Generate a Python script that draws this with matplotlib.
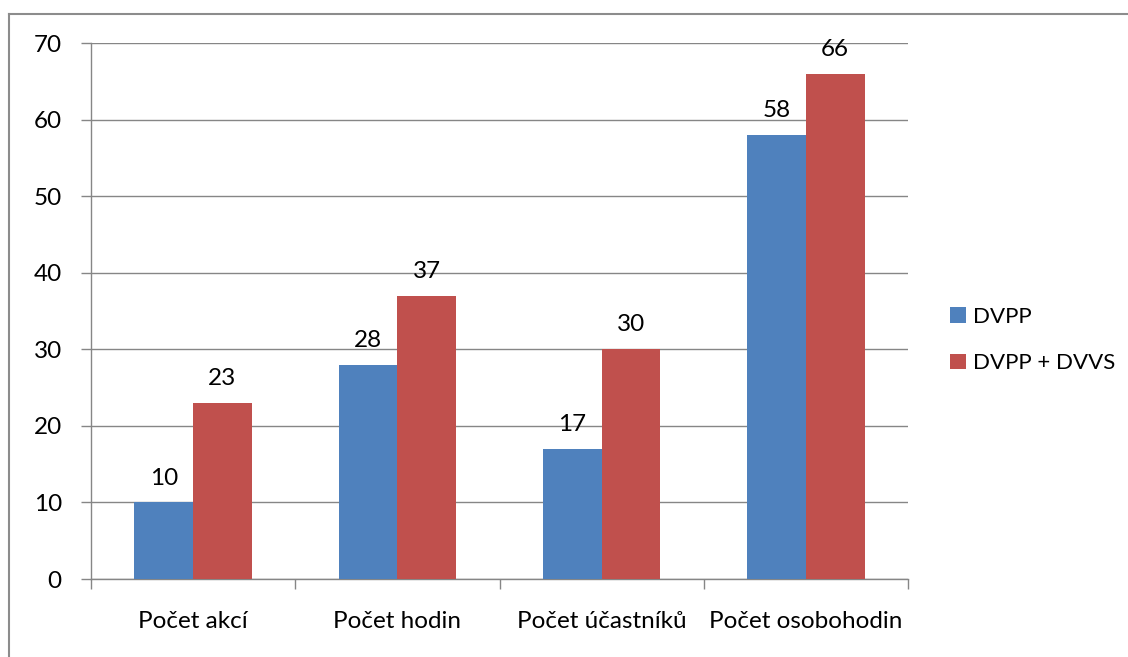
import matplotlib
matplotlib.use("Agg")
import matplotlib.pyplot as plt
from matplotlib.lines import Line2D
from matplotlib.patches import Patch
import numpy as np

categories = ["Počet akcí", "Počet hodin", "Počet účastníků", "Počet osobohodin"]
series_names = ["DVPP", "DVPP + DVVS"]
dvpp = [10, 28, 17, 58]
dvpp_dvvs = [23, 37, 30, 66]
y_ticks = [0, 10, 20, 30, 40, 50, 60, 70]

colors = ["#4F81BD", "#C0504D"]
grid_c = "#868686"

plt.rcParams['font.family'] = ['Lato', 'DejaVu Sans']
FS = 17.5

W, H = 1128, 657
fig = plt.figure(figsize=(W / 100, H / 100), dpi=100)
ax = fig.add_axes([91 / W, 1 - 579 / H, (908 - 91) / W, (579 - 43) / H])

x = np.arange(len(categories))
bw = 0.2875
b1 = ax.bar(x - bw / 2, dvpp, bw, color=colors[0], zorder=3)
b2 = ax.bar(x + bw / 2, dvpp_dvvs, bw, color=colors[1], zorder=3)

for bars in (b1, b2):
    for r in bars:
        ax.annotate(f"{int(r.get_height())}", (r.get_x() + r.get_width() / 2, r.get_height()),
                    xytext=(0, 10), textcoords="offset points", ha="center", va="bottom",
                    fontsize=FS, color="black", zorder=5)

ax.set_xlim(-0.5, len(categories) - 0.5)
ax.set_ylim(0, 70)
ax.set_yticks(y_ticks)
ax.set_yticklabels([str(v) for v in y_ticks], fontsize=FS)
ax.yaxis.grid(True, color=grid_c, linewidth=1, zorder=0)
ax.set_axisbelow(True)

ax.set_xticks(np.arange(-0.5, len(categories), 1.0))
ax.set_xticklabels([])
ax.set_xticks(x, minor=True)
ax.set_xticklabels(categories, minor=True, fontsize=FS)
ax.tick_params(axis="x", which="minor", length=0, pad=23)
ax.tick_params(axis="x", which="major", length=7, color=grid_c, width=1)
ax.tick_params(axis="y", length=7, color=grid_c, width=1, pad=14)

for s in ["top", "right"]:
    ax.spines[s].set_visible(False)
for s in ["left", "bottom"]:
    ax.spines[s].set_color(grid_c)
    ax.spines[s].set_linewidth(1)

handles = [Patch(facecolor=colors[0]), Patch(facecolor=colors[1])]
fig.legend(handles, series_names, loc="center left", bbox_to_anchor=(950 / W, 1 - 340 / H),
           frameon=False, fontsize=16, handlelength=0.7, handleheight=0.7,
           handletextpad=0.35, labelspacing=1.2, borderpad=0, borderaxespad=0)

# outer border
fig.add_artist(Line2D([9 / W, 9 / W], [0, 1 - 13.5 / H], color="#8c8c8c", linewidth=1.5,
                      transform=fig.transFigure))
fig.add_artist(Line2D([9 / W, 1], [1 - 13.5 / H, 1 - 13.5 / H], color="#8c8c8c", linewidth=1.5,
                      transform=fig.transFigure))

fig.savefig("out.png", dpi=100, facecolor="white")
